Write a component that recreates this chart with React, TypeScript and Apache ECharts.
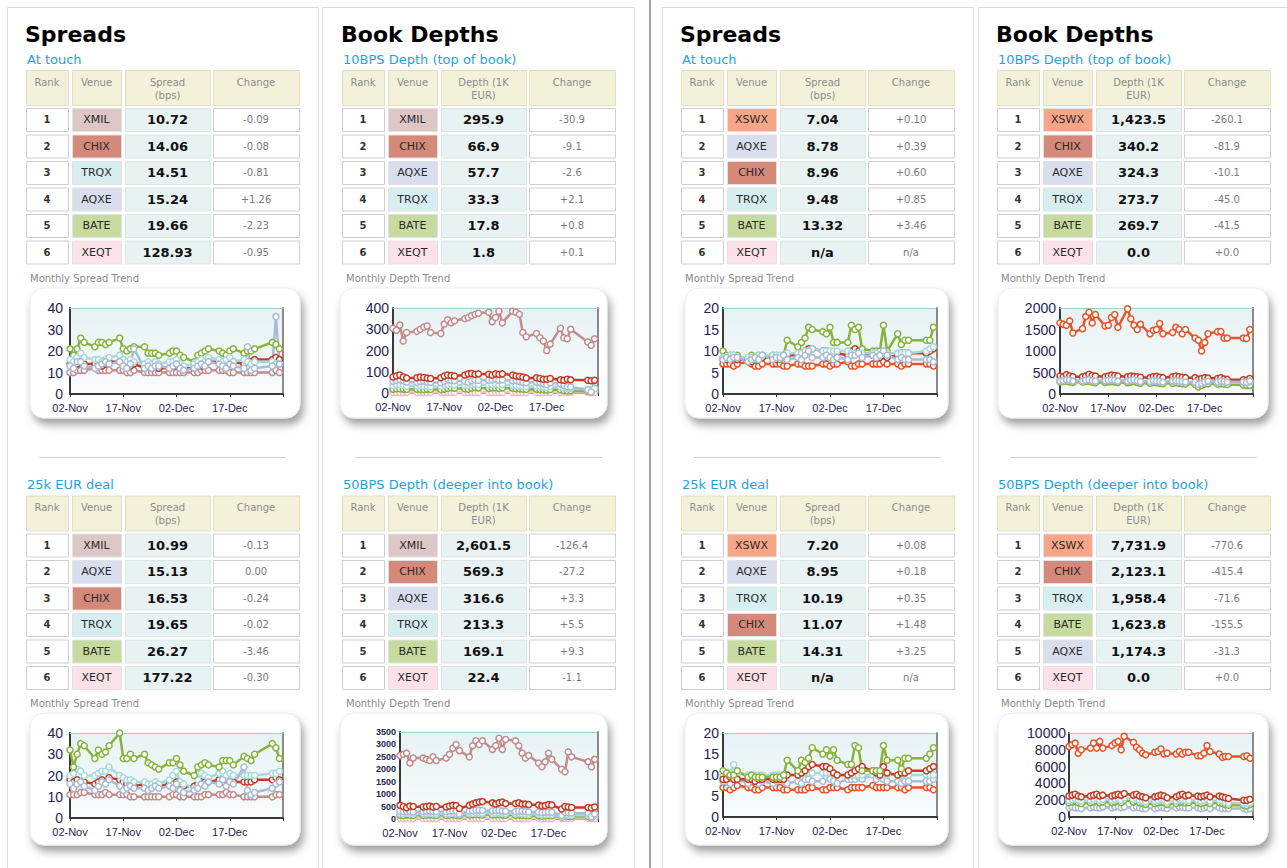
import React, { useEffect, useRef } from 'react';
import * as echarts from 'echarts';

// ---------- time axis ----------
// calendar-day offsets from 02-Nov of each plotted trading day
const tradingDays = [0,1,2,3,4,7,8,9,10,11,14,15,16,17,18,21,22,23,24,25,28,29,30,31,32,35,36,37,38,39,42,43,44,45,46,49,50,51,52,57,58,59];
const xTickLabels = ['02-Nov', '17-Nov', '02-Dec', '17-Dec', ''];

// ---------- tables ----------
const ranks = ['1', '2', '3', '4', '5', '6'];

const p1TouchVenues = ['XMIL', 'CHIX', 'TRQX', 'AQXE', 'BATE', 'XEQT'];
const p1TouchValues = ['10.72', '14.06', '14.51', '15.24', '19.66', '128.93'];
const p1TouchChanges = ['-0.09', '-0.08', '-0.81', '+1.26', '-2.23', '-0.95'];

const p1DealVenues = ['XMIL', 'AQXE', 'CHIX', 'TRQX', 'BATE', 'XEQT'];
const p1DealValues = ['10.99', '15.13', '16.53', '19.65', '26.27', '177.22'];
const p1DealChanges = ['-0.13', '0.00', '-0.24', '-0.02', '-3.46', '-0.30'];

const p2TopVenues = ['XMIL', 'CHIX', 'AQXE', 'TRQX', 'BATE', 'XEQT'];
const p2TopValues = ['295.9', '66.9', '57.7', '33.3', '17.8', '1.8'];
const p2TopChanges = ['-30.9', '-9.1', '-2.6', '+2.1', '+0.8', '+0.1'];

const p2DeepVenues = ['XMIL', 'CHIX', 'AQXE', 'TRQX', 'BATE', 'XEQT'];
const p2DeepValues = ['2,601.5', '569.3', '316.6', '213.3', '169.1', '22.4'];
const p2DeepChanges = ['-126.4', '-27.2', '+3.3', '+5.5', '+9.3', '-1.1'];

const p3TouchVenues = ['XSWX', 'AQXE', 'CHIX', 'TRQX', 'BATE', 'XEQT'];
const p3TouchValues = ['7.04', '8.78', '8.96', '9.48', '13.32', 'n/a'];
const p3TouchChanges = ['+0.10', '+0.39', '+0.60', '+0.85', '+3.46', 'n/a'];

const p3DealVenues = ['XSWX', 'AQXE', 'TRQX', 'CHIX', 'BATE', 'XEQT'];
const p3DealValues = ['7.20', '8.95', '10.19', '11.07', '14.31', 'n/a'];
const p3DealChanges = ['+0.08', '+0.18', '+0.35', '+1.48', '+3.25', 'n/a'];

const p4TopVenues = ['XSWX', 'CHIX', 'AQXE', 'TRQX', 'BATE', 'XEQT'];
const p4TopValues = ['1,423.5', '340.2', '324.3', '273.7', '269.7', '0.0'];
const p4TopChanges = ['-260.1', '-81.9', '-10.1', '-45.0', '-41.5', '+0.0'];

const p4DeepVenues = ['XSWX', 'CHIX', 'TRQX', 'BATE', 'AQXE', 'XEQT'];
const p4DeepValues = ['7,731.9', '2,123.1', '1,958.4', '1,623.8', '1,174.3', '0.0'];
const p4DeepChanges = ['-770.6', '-415.4', '-71.6', '-155.5', '-31.3', '+0.0'];

// ---------- trend series ----------
// Chart 1: Spreads at touch (panel 1)
const p1TouchXMIL = [10,10,11,11,11, 12,11,11,11,11, 11,11,10,10,11, 10,10,10,10,10, 10,10,10,10,10, 10,10,11,11,11, 11,11,11,10,10, 10,10,10,10, 10,11,10];
const p1TouchCHIX = [14,13,14,15,14, 14,14,13,14,15, 15,14,13,13,14, 12,13,12,13,12, 12,13,13,12,12, 12,13,13,14,15, 15,14,13,14,15, 14,15,15,16, 16,17,16];
const p1TouchTRQX = [16,15,17,19,17, 16,16,15,16,17, 18,16,15,16,15, 14,15,14,15,14, 15,15,16,14,13, 14,15,16,15,17, 16,15,16,17,15, 16,15,14,15, 15,14,14];
const p1TouchAQXE = [13,12,15,15,13, 12,13,14,15,14, 15,13,12,14,21, 12,13,12,13,13, 12,13,14,12,11, 12,13,14,13,15, 14,13,12,14,13, 12,22,11,12, 13,36,14];
const p1TouchBATE = [21,18,21,26,24, 22,24,24,23,24, 26,21,20,21,22, 22,19,19,19,18, 19,20,20,18,17, 15,18,19,20,21, 20,19,18,20,21, 19,20,20,21, 24,23,21];

// Chart 2: 10BPS depth (panel 2)
const p2TopXMIL = [305,295,320,245,285, 290,300,310,315,285, 280,325,345,330,340, 350,355,365,370,375, 380,335,355,385,330, 385,380,370,285,265, 280,260,245,200,230, 305,260,255,300, 240,225,255];
const p2TopCHIX = [75,80,85,75,70, 72,75,73,70,68, 72,80,85,82,80, 85,90,92,88,90, 88,85,90,88,90, 85,80,78,75,70, 72,68,65,65,68, 62,60,65,62, 60,58,60];
const p2TopAQXE = [55,60,62,58,52, 50,55,56,52,50, 48,55,65,60,58, 55,50,58,62,60, 60,62,65,60,62, 58,60,55,50,48, 52,50,45,40,48, 45,35,30,28, 15,5,60];
const p2TopTRQX = [35,38,40,36,32, 34,35,33,32,30, 32,38,40,42,38, 36,35,40,42,40, 38,40,42,38,40, 36,35,34,32,30, 32,30,28,26,30, 28,25,22,20, 18,15,20];
const p2TopBATE = [18,20,20,18,17, 18,17,16,18,17, 16,18,22,25,22, 20,18,24,26,24, 22,24,25,22,24, 22,20,20,18,17, 18,16,15,14,16, 15,12,10,10, 8,5,22];
const p2TopXEQT = [2,2,2,2,2, 2,2,2,2,2, 2,2,2,2,2, 2,2,2,2,2, 2,2,2,2,2, 2,2,2,2,2, 2,2,2,2,2, 2,2,2,2, 2,2,2];

// Chart 3: Spreads at touch (panel 3)
const p3TouchXSWX = [7,7,7,6.5,7, 7.5,7,6.5,6.5,7, 7,7,7,6.5,6.5, 7,7,6.5,6.5,6.5, 7,7,6.5,7,7, 7.5,6.5,6.5,7,7, 7,7,7,7.5,7, 7,6.5,7,7, 7,7,6.5];
const p3TouchCHIX = [8,8,8,8.5,8, 8,7.5,8,8,8.5, 8.5,8,8.5,9,9, 9,9.5,10,10.5,10.5, 10,10,9.5,9,9.5, 9,10,10.5,10,9.5, 9,9,8.5,9,8.5, 9,9.5,9.5,9.5, 9.5,10,10.5];
const p3TouchTRQX = [8.5,8.5,9,9,8.5, 8.5,8.5,8.5,9,9, 9,9,9,9,9.5, 9.5,9.5,10,10,10.5, 10,10,10,10,10, 10,9.5,9.5,9.5,9.5, 9.5,9.5,9,9.5,9.5, 9.5,9.5,9.5,9.5, 10,10.5,11];
const p3TouchAQXE = [8,8.5,8,8.5,8.5, 7.5,8,8.5,8,9, 8,8.5,8.5,9,8, 8.5,8,9,10,8.5, 8.5,9,8.5,8,8.5, 8,9,9,9.5,8.5, 9,8.5,9,10,9, 8,8.5,8,8, 8,8,7.5];
const p3TouchBATE = [10,9,9,9,9, 8,9,8,9,9, 9,9,8,9,12.5, 11,12,13,15.5,15, 14.5,14,15.5,12,12, 12,16,15,15.5,10.5, 10,10,10,16,10, 14,11.5,12.5,12.5, 12.5,12.5,15.5];

// Chart 4: 10BPS depth (panel 4)
const p4TopXSWX = [1650,1620,1600,1700,1420, 1520,1800,1900,1650,1850, 1580,1600,1780,1850,1550, 1980,1750,1600,1500,1620, 1400,1480,1500,1640,1400, 1430,1550,1500,1400,1500, 1300,1250,1000,1200,1400, 1450,1450,1300,1300, 1300,1290,1500];
const p4TopCHIX = [420,400,450,420,400, 400,420,460,430,420, 400,420,440,430,420, 400,420,410,400,390, 380,400,410,390,380, 400,420,400,390,380, 380,340,360,380,370, 360,380,350,340, 330,320,360];
const p4TopAQXE = [300,310,330,320,300, 300,320,330,310,300, 310,320,330,320,300, 300,320,330,310,290, 290,310,300,290,280, 300,310,300,290,280, 270,230,250,280,300, 280,300,290,280, 280,270,300];
const p4TopTRQX = [320,330,340,330,310, 320,330,340,330,310, 320,330,340,330,320, 310,330,340,320,300, 300,320,310,300,290, 300,310,300,290,280, 280,240,260,280,290, 270,290,280,270, 270,260,280];
const p4TopBATE = [280,290,300,280,270, 280,290,300,280,260, 270,280,290,280,270, 260,280,290,270,250, 250,270,260,250,240, 250,260,250,240,230, 220,160,200,230,240, 230,240,230,220, 210,200,200];

// Chart 5: Spreads 25k EUR deal (panel 1)
const p1DealXMIL = [11,11,11,12,12, 11,11,11,12,11, 11,11,11,10,10, 10,10,10,10,10, 10,11,11,10,10, 10,10,10,11,11, 11,11,12,11,11, 10,10,10,10, 10,11,11];
const p1DealCHIX = [18,17,18,17,17, 16,17,18,17,19, 18,17,16,16,15, 16,15,15,16,15, 16,16,17,16,15, 15,16,17,17,17, 18,17,18,17,17, 17,17,17,18, 18,19,18];
const p1DealTRQX = [20,21,23,22,20, 20,21,22,22,24, 20,19,18,18,17, 17,16,16,17,16, 18,20,22,17,16, 14,18,21,20,19, 21,22,20,21,20, 20,20,20,20, 21,21,22];
const p1DealAQXE = [16,14,16,17,15, 13,15,17,16,18, 15,13,14,15,14, 14,13,14,15,14, 15,14,16,13,12, 13,14,16,15,17, 16,18,15,17,16, 24,13,11,12, 14,16,17];
const p1DealBATE = [32,24,30,35,34, 28,32,30,31,34, 40,28,28,30,28, 30,26,25,24,23, 26,26,28,25,22, 20,24,25,26,25, 24,27,27,27,25, 29,28,27,30, 35,33,28];

// Chart 6: 50BPS depth (panel 2)
const p2DeepXMIL = [2550,2600,2650,2250,2450, 2450,2400,2350,2500,2350, 2450,2600,2850,3000,2750, 2500,2950,3150,3000,3150, 2800,2950,3250,2800,3200, 3150,2950,2650,2450,2550, 2250,2100,2300,2650,2400, 2000,1900,2700,2500, 2300,2100,2400];
const p2DeepCHIX = [550,500,450,520,500, 480,500,520,480,500, 480,520,550,540,420, 550,600,650,680,700, 650,600,650,680,620, 620,650,600,600,580, 560,520,540,580,560, 400,500,480,460, 460,440,480];
const p2DeepAQXE = [320,300,310,300,280, 300,310,320,300,290, 300,320,330,310,200, 320,340,360,350,340, 330,340,350,320,310, 300,320,310,300,280, 280,260,270,280,270, 150,260,250,240, 230,100,200];
const p2DeepTRQX = [220,210,230,220,200, 210,220,230,210,200, 210,220,230,220,180, 220,230,250,240,230, 230,240,250,230,220, 210,220,210,200,190, 190,170,180,190,180, 100,170,160,150, 150,80,150];
const p2DeepBATE = [150,140,160,150,140, 150,160,170,150,140, 150,160,170,150,130, 160,170,180,170,160, 160,170,180,160,150, 150,160,150,140,130, 130,120,130,140,130, 80,120,110,100, 100,60,180];
const p2DeepXEQT = [20,22,21,20,22, 21,20,22,21,20, 22,21,20,22,21, 20,22,21,20,22, 21,20,22,21,20, 22,21,20,22,21, 20,22,21,20,22, 21,20,22,21, 20,22,21];

// Chart 7: Spreads 25k EUR deal (panel 3)
const p3DealXSWX = [7,7,6.5,7,7.5, 7,7,6.5,6.5,7, 7,7,7,6.5,6.5, 6.5,6.5,6.5,7,7, 6.5,6.5,7,7,7, 6.5,7,7,7,7, 7.5,7,7,7,7, 7,7,6.5,7, 7,7,6.5];
const p3DealCHIX = [9,9,9.5,9,9, 9,9,8.5,9,9, 9,9,9,9,10, 10,10.5,11,12,12.5, 12,12,11.5,10.5,10, 10,10.5,11,11.5,12, 11,10.5,10,12,10.5, 10,10.5,10.5,11, 11,11.5,12];
const p3DealTRQX = [10,10,10.5,12.5,10.5, 10,10,10,10,10, 10,10,10,10,10, 10,10,10.5,10.5,10.5, 10.5,10.5,10.5,10,10, 10,10,10,10,10, 10,10,10,10,10, 10,10,10,10, 10,10,10];
const p3DealAQXE = [8.5,8.5,8,9,9, 8,9,8.5,8,8.5, 8,8.5,9,8.5,8, 8.5,8,9,9,8.5, 8.5,9.5,9,8.5,8, 9,9,9,9.5,9, 10,9,9.5,9,8.5, 8.5,8,8.5,8.5, 8.5,8.5,9];
const p3DealBATE = [11,10.5,10,10,11, 9.5,10,9.5,9.5,9.5, 9.5,9.5,9.5,10,13.5, 11,13.5,13,14,16.5, 15,16,14.5,16,13.5, 12.5,12.5,17,16.5,11, 11,11,11,17,13.5, 13.5,11.5,14,14, 14,15,16.5];

// Chart 8: 50BPS depth (panel 4)
const p4DeepXSWX = [8400,8600,8800,7600,8000, 8200,8800,8200,9000,8200, 8500,8800,9000,8000,9600, 8900,8300,8000,7600,7400, 7700,7800,8100,7500,7600, 7500,7800,7500,7700,7700, 7300,7300,7600,8500,7800, 7500,7100,7200,7200, 7200,7300,7000];
const p4DeepCHIX = [2500,2600,2700,2500,2400, 2500,2600,2700,2500,2600, 2500,2600,2700,2600,2800, 2600,2700,2500,2400,2300, 2400,2500,2600,2500,2300, 2400,2600,2700,2500,2600, 2500,2400,2500,2600,2400, 2500,2400,2300,2200, 2000,2000,2100];
const p4DeepTRQX = [2000,2100,2200,2000,1900, 2000,2100,2200,2000,2100, 2000,2100,2200,2000,2300, 2100,2200,2000,1900,1800, 1900,2000,2100,2000,1800, 1900,2100,2100,2000,2000, 2000,1900,2000,2100,1900, 2000,1900,1800,1700, 1600,1600,1700];
const p4DeepBATE = [1700,1800,1900,1700,1600, 1700,1800,1900,1700,1800, 1700,1800,1900,1700,2000, 1800,1900,1700,1600,1500, 1600,1700,1800,1700,1500, 1600,1800,1800,1700,1700, 1700,1600,1700,1800,1600, 1700,1600,1500,1400, 1400,1300,1500];
const p4DeepAQXE = [1100,1200,1100,1100,1000, 1100,1200,1100,1100,1200, 1100,1200,1300,1100,1200, 1100,1200,1100,1000,1000, 1000,1100,1200,1100,1000, 1100,1200,1200,1100,1100, 1100,1000,1100,1200,1000, 1100,1000,1000,1000, 1000,900,1000];

// ---------- styling ----------
const FONT = '"DejaVu Sans", Verdana, sans-serif';
const AX_FONT = '"Liberation Sans", Arial, sans-serif';

const venueFill: Record<string, string> = {
  XMIL: '#dcc6c6', CHIX: '#d4897b', TRQX: '#d6eef0', AQXE: '#d9deee',
  BATE: '#c7da9f', XEQT: '#fde1e8', XSWX: '#f6a586',
};
const venueLine: Record<string, string> = {
  XMIL: '#c48b8b', CHIX: '#c63b22', TRQX: '#a6d9de', AQXE: '#a9bbd6',
  BATE: '#86b43b', XEQT: '#f3b9c8', XSWX: '#ea5327',
};

const panelDefs = [
  { x: 25, border: [7, 318], title: 'Spreads', valueHeader: 'Spread\n(bps)', trend: 'Monthly Spread Trend',
    sections: [
      { sub: 'At touch', venues: p1TouchVenues, values: p1TouchValues, changes: p1TouchChanges },
      { sub: '25k EUR deal', venues: p1DealVenues, values: p1DealValues, changes: p1DealChanges },
    ] },
  { x: 341, border: [322, 634], title: 'Book Depths', valueHeader: 'Depth (1K\nEUR)', trend: 'Monthly Depth Trend',
    sections: [
      { sub: '10BPS Depth (top of book)', venues: p2TopVenues, values: p2TopValues, changes: p2TopChanges },
      { sub: '50BPS Depth (deeper into book)', venues: p2DeepVenues, values: p2DeepValues, changes: p2DeepChanges },
    ] },
  { x: 680, border: [662, 973], title: 'Spreads', valueHeader: 'Spread\n(bps)', trend: 'Monthly Spread Trend',
    sections: [
      { sub: 'At touch', venues: p3TouchVenues, values: p3TouchValues, changes: p3TouchChanges },
      { sub: '25k EUR deal', venues: p3DealVenues, values: p3DealValues, changes: p3DealChanges },
    ] },
  { x: 996, border: [978, 1300], title: 'Book Depths', valueHeader: 'Depth (1K\nEUR)', trend: 'Monthly Depth Trend',
    sections: [
      { sub: '10BPS Depth (top of book)', venues: p4TopVenues, values: p4TopValues, changes: p4TopChanges },
      { sub: '50BPS Depth (deeper into book)', venues: p4DeepVenues, values: p4DeepValues, changes: p4DeepChanges },
    ] },
];

const chartDefs = [
  { grid: { left: 70, top: 308, width: 213, height: 86 }, box: [30, 288, 270, 130], yMax: 40, yInt: 10, yFont: 14, yMargin: 7,
    series: [['XMIL', p1TouchXMIL], ['CHIX', p1TouchCHIX], ['BATE', p1TouchBATE], ['TRQX', p1TouchTRQX], ['AQXE', p1TouchAQXE]] },
  { grid: { left: 393, top: 308, width: 205, height: 85 }, box: [340, 288, 267, 130], yMax: 400, yInt: 100, yFont: 14, yMargin: 4,
    series: [['XEQT', p2TopXEQT], ['BATE', p2TopBATE], ['TRQX', p2TopTRQX], ['AQXE', p2TopAQXE], ['CHIX', p2TopCHIX], ['XMIL', p2TopXMIL]] },
  { grid: { left: 723, top: 308, width: 214, height: 86 }, box: [685, 288, 263, 130], yMax: 20, yInt: 5, yFont: 14, yMargin: 4,
    series: [['XSWX', p3TouchXSWX], ['CHIX', p3TouchCHIX], ['BATE', p3TouchBATE], ['TRQX', p3TouchTRQX], ['AQXE', p3TouchAQXE]] },
  { grid: { left: 1060, top: 308, width: 193, height: 86 }, box: [998, 288, 270, 130], yMax: 2000, yInt: 500, yFont: 14, yMargin: 4,
    series: [['BATE', p4TopBATE], ['TRQX', p4TopTRQX], ['CHIX', p4TopCHIX], ['AQXE', p4TopAQXE], ['XSWX', p4TopXSWX]] },
  { grid: { left: 70, top: 733, width: 213, height: 85 }, box: [30, 713, 270, 132], yMax: 40, yInt: 10, yFont: 14, yMargin: 7,
    series: [['XMIL', p1DealXMIL], ['CHIX', p1DealCHIX], ['TRQX', p1DealTRQX], ['AQXE', p1DealAQXE], ['BATE', p1DealBATE]] },
  { grid: { left: 400, top: 732, width: 198, height: 87 }, box: [340, 713, 267, 132], yMax: 3500, yInt: 500, yFont: 9, yMargin: 4,
    series: [['XEQT', p2DeepXEQT], ['BATE', p2DeepBATE], ['TRQX', p2DeepTRQX], ['AQXE', p2DeepAQXE], ['CHIX', p2DeepCHIX], ['XMIL', p2DeepXMIL]] },
  { grid: { left: 723, top: 733, width: 214, height: 84 }, box: [685, 713, 263, 132], yMax: 20, yInt: 5, yFont: 14, yMargin: 4,
    series: [['XSWX', p3DealXSWX], ['AQXE', p3DealAQXE], ['TRQX', p3DealTRQX], ['CHIX', p3DealCHIX], ['BATE', p3DealBATE]] },
  { grid: { left: 1069, top: 733, width: 184, height: 84 }, box: [998, 713, 270, 132], yMax: 10000, yInt: 2000, yFont: 14, yMargin: 3,
    series: [['AQXE', p4DeepAQXE], ['BATE', p4DeepBATE], ['TRQX', p4DeepTRQX], ['CHIX', p4DeepCHIX], ['XSWX', p4DeepXSWX]] },
];

function txt(x: number, y: number, t: string, font: string, fill: string, align = 'left', valign = 'middle', extra: any = {}) {
  return { type: 'text', x, y, silent: true, z: 5, style: { text: t, font, fill, textAlign: align, textVerticalAlign: valign, ...extra } };
}
function box(x: number, y: number, w: number, h: number, fill: string, stroke: string, z = 1) {
  return { type: 'rect', silent: true, z, shape: { x: x + 0.5, y: y + 0.5, width: w, height: h }, style: { fill, stroke, lineWidth: 1 } };
}

function buildGraphics() {
  const els: any[] = [];
  els.push({ type: 'line', silent: true, z: -20, shape: { x1: 650, y1: 0, x2: 650, y2: 868 }, style: { stroke: '#a4a4a4', lineWidth: 2 } });
  const cols = [[1, 42], [47, 49], [100, 85], [188, 86]];
  const rowTops = [108, 134.5, 161, 187.5, 214, 240.5];
  panelDefs.forEach((p) => {
    els.push({ type: 'rect', silent: true, z: -30, shape: { x: p.border[0] + 0.5, y: 7.5, width: p.border[1] - p.border[0], height: 900 }, style: { fill: '#fff', stroke: '#dadada', lineWidth: 1 } });
    els.push(txt(p.x, 34, p.title, `bold 22px ${FONT}`, '#000'));
    els.push({ type: 'line', silent: true, z: 1, shape: { x1: p.x + 14, y1: 457.5, x2: p.x + 261, y2: 457.5 }, style: { stroke: '#d6d6d6', lineWidth: 1 } });
    p.sections.forEach((s, si) => {
      const off = si === 0 ? 0 : 425.5;
      els.push(txt(p.x + 2, 59 + off, s.sub, `13px ${FONT}`, '#1fa2e0'));
      const headers = ['Rank', 'Venue', p.valueHeader, 'Change'];
      headers.forEach((h, ci) => {
        const [cx, cw] = cols[ci];
        els.push(box(p.x + cx, 70 + off, cw, 35, '#f3f1da', '#e2dfc0'));
        els.push(txt(p.x + cx + cw / 2, 75.5 + off, h, `10px ${FONT}`, '#8c8c8c', 'center', 'top', { lineHeight: 13 }));
      });
      rowTops.forEach((rt, ri) => {
        const y = rt + off;
        const cy = y + 11.5;
        const v = s.venues[ri];
        els.push(box(p.x + cols[0][0], y, cols[0][1], 23, '#ffffff', '#cfcfcf'));
        els.push(txt(p.x + cols[0][0] + cols[0][1] / 2, cy, ranks[ri], `bold 10px ${FONT}`, '#333', 'center'));
        els.push(box(p.x + cols[1][0], y, cols[1][1], 23, venueFill[v], '#e2e2e2'));
        els.push(txt(p.x + cols[1][0] + cols[1][1] / 2, cy, v, `11px ${FONT}`, '#2a2a2a', 'center'));
        els.push(box(p.x + cols[2][0], y, cols[2][1], 23, '#e9f2f3', '#dbe4e6'));
        els.push(txt(p.x + cols[2][0] + cols[2][1] / 2, cy, s.values[ri], `bold 13px ${FONT}`, '#111', 'center'));
        els.push(box(p.x + cols[3][0], y, cols[3][1], 23, '#ffffff', '#cfcfcf'));
        els.push(txt(p.x + cols[3][0] + cols[3][1] / 2, cy, s.changes[ri], `10px ${FONT}`, '#7a7a7a', 'center'));
      });
      els.push(txt(p.x + 5, 278 + off, p.trend, `10px ${FONT}`, '#8a8a8a'));
    });
  });
  chartDefs.forEach((c) => {
    const [bx, by, bw, bh] = c.box;
    els.push({ type: 'rect', silent: true, z: -10, shape: { x: bx, y: by, width: bw, height: bh, r: 14 },
      style: { fill: '#ffffff', stroke: '#ececec', lineWidth: 1, shadowBlur: 8, shadowColor: 'rgba(0,0,0,0.38)', shadowOffsetX: 3, shadowOffsetY: 6 } });
  });
  return els;
}

function buildOption() {
  const grids: any[] = [];
  const xAxes: any[] = [];
  const yAxes: any[] = [];
  const series: any[] = [];
  chartDefs.forEach((c, i) => {
    grids.push({ ...c.grid, show: true, borderWidth: 0, z: 0,
      backgroundColor: { type: 'linear', x: 0, y: 0, x2: 0, y2: 1, colorStops: [{ offset: 0, color: '#e7f2f5' }, { offset: 1, color: '#f8fbfc' }] } });
    xAxes.push({ gridIndex: i, type: 'value', min: 0, max: 60, interval: 15,
      axisLine: { show: true, onZero: false, lineStyle: { color: '#3a3a3a', width: 2 } },
      axisTick: { show: true, length: 3, lineStyle: { color: '#333' } },
      axisLabel: { showMinLabel: true, fontSize: 11, fontFamily: AX_FONT, color: '#1f2450', margin: 8,
        formatter: (v: number) => xTickLabels[Math.round(v / 15)] ?? '' },
      splitLine: { show: false } });
    xAxes.push({ gridIndex: i, type: 'value', position: 'top', min: 0, max: 1,
      axisLine: { show: true, onZero: false, lineStyle: { color: '#93c6cc', type: 'dotted', width: 1 } },
      axisTick: { show: false }, axisLabel: { show: false }, splitLine: { show: false } });
    yAxes.push({ gridIndex: i, type: 'value', position: 'left', min: 0, max: c.yMax, interval: c.yInt,
      axisLine: { show: true, onZero: false, lineStyle: { color: '#3a3a3a', width: 2 } },
      axisTick: { show: false },
      axisLabel: { fontSize: c.yFont, fontWeight: c.yFont < 10 ? 'bold' : 'normal', fontFamily: AX_FONT, color: '#1f2450', margin: c.yMargin,
        formatter: (v: number) => String(v) },
      splitLine: { show: false } });
    yAxes.push({ gridIndex: i, type: 'value', position: 'right', min: 0, max: 1,
      axisLine: { show: true, onZero: false, lineStyle: { color: '#8a8a8a', width: 2 } },
      axisTick: { show: false }, axisLabel: { show: false }, splitLine: { show: false } });
    c.series.forEach(([name, arr]: any) => {
      const color = venueLine[name];
      series.push({
        type: 'line', name, xAxisIndex: 2 * i, yAxisIndex: 2 * i, silent: true, z: 3,
        data: tradingDays.map((d, k) => [d, arr[k]]),
        symbol: 'circle', symbolSize: 6, showSymbol: true,
        lineStyle: { color, width: 2.5 },
        itemStyle: { color: '#ffffff', borderColor: color, borderWidth: 1.5 },
      });
    });
  });
  return {
    animation: false,
    backgroundColor: '#ffffff',
    graphic: { elements: buildGraphics() },
    grid: grids,
    xAxis: xAxes,
    yAxis: yAxes,
    series,
  };
}

export default function App() {
  const ref = useRef<HTMLDivElement>(null);
  useEffect(() => {
    document.body.style.margin = '0';
    document.body.style.overflow = 'hidden';
    const chart = echarts.init(ref.current as HTMLDivElement, null, { renderer: 'svg', width: 1287, height: 868 });
    chart.setOption(buildOption() as any);
    return () => chart.dispose();
  }, []);
  return <div ref={ref} style={{ position: 'absolute', left: 0, top: 0, width: 1287, height: 868, background: '#fff' }} />;
}
